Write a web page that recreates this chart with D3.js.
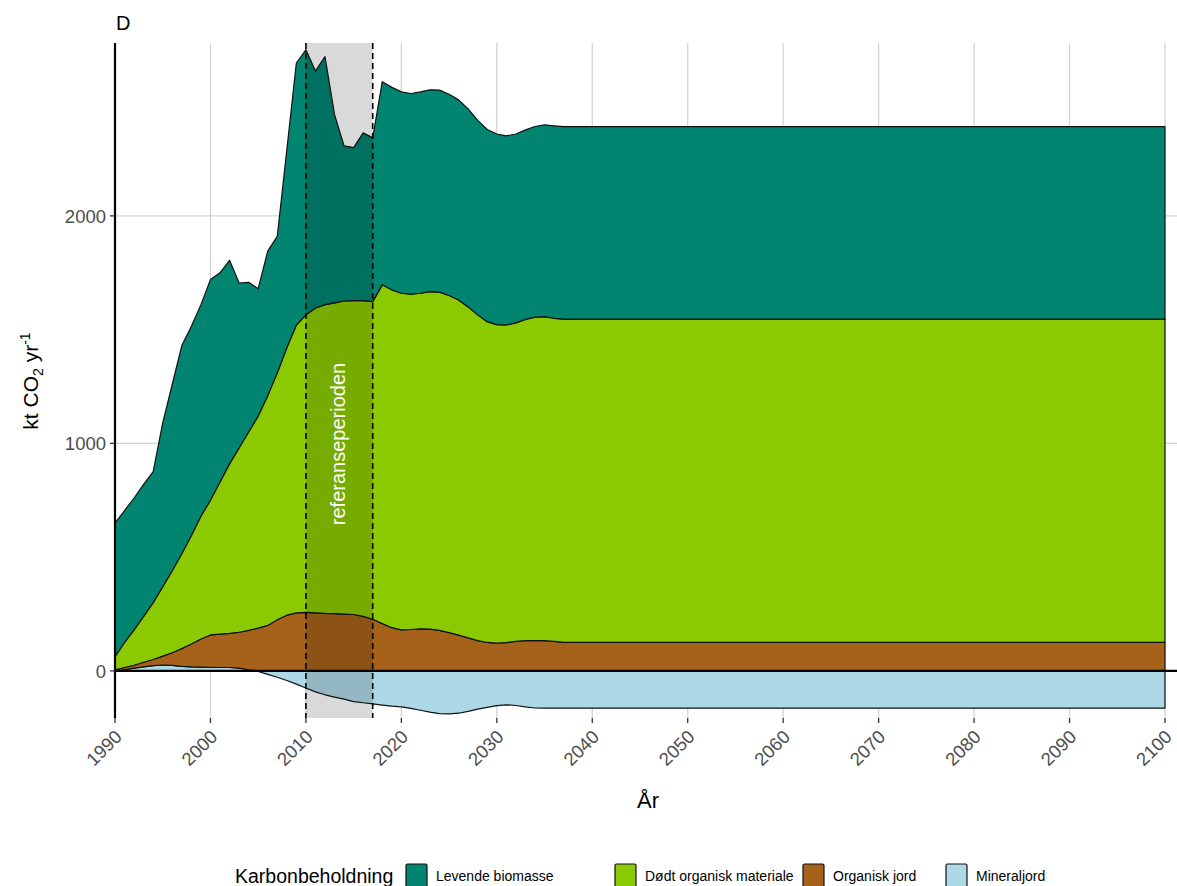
<!DOCTYPE html>
<html>
<head>
<meta charset="utf-8">
<script src="https://cdn.jsdelivr.net/npm/d3@7"></script>
<style>
  body { margin: 0; background: #fff; }
  svg { display: block; font-family: "Liberation Sans", Arial, sans-serif; }
</style>
</head>
<body>
<svg id="chart" width="1177" height="886"></svg>
<script>
// ---- data (kt CO2 per year) ----
const years = [1990, 1991, 1992, 1993, 1994, 1995, 1996, 1997, 1998, 1999,
  2000, 2001, 2002, 2003, 2004, 2005, 2006, 2007, 2008, 2009,
  2010, 2011, 2012, 2013, 2014, 2015, 2016, 2017, 2018, 2019,
  2020, 2021, 2022, 2023, 2024, 2025, 2026, 2027, 2028, 2029,
  2030, 2031, 2032, 2033, 2034, 2035, 2036, 2037, 2100];

const levende = [587, 580, 580, 580, 576, 720, 820, 915, 920, 930,
  970, 920, 895, 725, 658, 560, 635, 600, 870, 1152,
  1165, 1042, 1090, 827, 682, 672, 737, 720, 893, 890,
  885, 882, 885, 887, 888, 885, 880, 870, 855, 845,
  838, 831, 830, 833, 838, 843, 846, 846, 846];

const dodt = [58, 110, 155, 202, 250, 305, 360, 417, 477, 540,
  592, 668, 745, 810, 872, 932, 1010, 1085, 1175, 1265,
  1308, 1340, 1357, 1366, 1376, 1380, 1388, 1396, 1489, 1485,
  1480, 1474, 1475, 1483, 1487, 1482, 1473, 1455, 1432, 1410,
  1400, 1397, 1400, 1412, 1422, 1424, 1420, 1421, 1421];

const organisk = [5, 10, 13, 20, 27, 39, 56, 78, 100, 123,
  142, 147, 150, 158, 173, 188, 200, 225, 245, 255,
  257, 255, 253, 252, 250, 248, 240, 227, 208, 190,
  180, 182, 185, 184, 178, 168, 157, 145, 133, 125,
  122, 124, 130, 133, 133, 133, 130, 125, 125];

const mineral = [0, 5, 12, 18, 23, 26, 24, 20, 18, 17,
  16, 15, 15, 12, 5, -2, -15, -28, -42, -58,
  -75, -92, -105, -115, -124, -135, -140, -145, -150, -155,
  -158, -165, -173, -181, -188, -189, -186, -178, -168, -160,
  -153, -149, -152, -158, -163, -164, -164, -164, -164];

const seriesKeys = ["Mineraljord", "Organisk jord", "Dødt organisk materiale", "Levende biomasse"];
const legendOrder = ["Levende biomasse", "Dødt organisk materiale", "Organisk jord", "Mineraljord"];
const colors = {
  "Levende biomasse": "#018571",
  "Dødt organisk materiale": "#8bc900",
  "Organisk jord": "#a6611a",
  "Mineraljord": "#add8e6"
};

const xTicks = [1990, 2000, 2010, 2020, 2030, 2040, 2050, 2060, 2070, 2080, 2090, 2100];
const yTicks = [0, 1000, 2000];
const refPeriod = [2010, 2017];

// ---- layout ----
const svg = d3.select("#chart");
const pLeft = 115, pTop = 43, pBottom = 718, pRight = 1177;

const x = d3.scaleLinear().domain([1990, 2101.26]).range([pLeft, pRight]);
const y = d3.scaleLinear().domain([-207, 2760]).range([pBottom, pTop]);

const rows = years.map((yr, i) => ({
  year: yr,
  "Levende biomasse": levende[i],
  "Dødt organisk materiale": dodt[i],
  "Organisk jord": organisk[i],
  "Mineraljord": mineral[i]
}));

const stack = d3.stack()
  .keys(seriesKeys)
  .offset(d3.stackOffsetDiverging);
const layers = stack(rows);

/* grid */
const grid = svg.append("g");
grid.selectAll(".vg").data(xTicks).join("line")
  .attr("x1", d => x(d)).attr("x2", d => x(d))
  .attr("y1", pTop).attr("y2", pBottom)
  .attr("stroke", "#d4d4d4").attr("stroke-width", 1.3);
grid.selectAll(".hg").data(yTicks).join("line")
  .attr("x1", pLeft).attr("x2", pRight)
  .attr("y1", d => y(d)).attr("y2", d => y(d))
  .attr("stroke", "#d4d4d4").attr("stroke-width", 1.3);

/* areas */
const area = d3.area()
  .x(d => x(d.data.year))
  .y0(d => y(d[0]))
  .y1(d => y(d[1]));

svg.append("g").selectAll("path").data(layers).join("path")
  .attr("d", area)
  .attr("fill", d => colors[d.key])
  .attr("stroke", "#111")
  .attr("stroke-width", 1.2)
  .attr("stroke-linejoin", "round");

/* zero line */
svg.append("line")
  .attr("x1", pLeft).attr("x2", pRight)
  .attr("y1", y(0)).attr("y2", y(0))
  .attr("stroke", "black").attr("stroke-width", 2.4);

/* reference period */
svg.append("rect")
  .attr("x", x(refPeriod[0])).attr("y", pTop)
  .attr("width", x(refPeriod[1]) - x(refPeriod[0]))
  .attr("height", pBottom - pTop)
  .attr("fill", "black").attr("fill-opacity", 0.15);

svg.selectAll(".ref").data(refPeriod).join("line")
  .attr("x1", d => x(d)).attr("x2", d => x(d))
  .attr("y1", pTop).attr("y2", pBottom)
  .attr("stroke", "black").attr("stroke-width", 1.6)
  .attr("stroke-dasharray", "6,4");

const midRef = (x(refPeriod[0]) + x(refPeriod[1])) / 2;
svg.append("text")
  .attr("transform", `translate(${midRef + 6},444) rotate(-90)`)
  .attr("text-anchor", "middle")
  .attr("fill", "white")
  .attr("font-size", 20)
  .text("referanseperioden");

/* y axis */
svg.append("line")
  .attr("x1", pLeft).attr("x2", pLeft)
  .attr("y1", pTop).attr("y2", pBottom)
  .attr("stroke", "black").attr("stroke-width", 2.2);

svg.selectAll(".yt").data(yTicks).join("line")
  .attr("x1", pLeft - 5).attr("x2", pLeft)
  .attr("y1", d => y(d)).attr("y2", d => y(d))
  .attr("stroke", "#333").attr("stroke-width", 1.3);

svg.selectAll(".yl").data(yTicks).join("text")
  .attr("x", pLeft - 9).attr("y", d => y(d))
  .attr("dy", "0.36em")
  .attr("text-anchor", "end")
  .attr("fill", "#4d4d4d")
  .attr("font-size", 18.5)
  .text(d => d);

/* x axis */
svg.selectAll(".xt").data(xTicks).join("line")
  .attr("x1", d => x(d)).attr("x2", d => x(d))
  .attr("y1", pBottom).attr("y2", pBottom + 5)
  .attr("stroke", "#333").attr("stroke-width", 1.3);

svg.selectAll(".xl").data(xTicks).join("text")
  .attr("transform", d => `translate(${x(d) + 8},${pBottom + 20}) rotate(-45)`)
  .attr("text-anchor", "end")
  .attr("fill", "#4d4d4d")
  .attr("font-size", 18.5)
  .text(d => d);

/* titles */
svg.append("text")
  .attr("x", 648).attr("y", 808)
  .attr("text-anchor", "middle")
  .attr("font-size", 22)
  .text("År");

const yTitle = svg.append("text")
  .attr("transform", "translate(38,381) rotate(-90)")
  .attr("text-anchor", "middle")
  .attr("font-size", 21);
yTitle.append("tspan").text("kt CO");
yTitle.append("tspan").attr("font-size", 14).attr("dy", 5).text("2");
yTitle.append("tspan").attr("dy", -5).text(" yr");
yTitle.append("tspan").attr("font-size", 14).attr("dy", -8).text("-1");

svg.append("text")
  .attr("x", 116).attr("y", 30)
  .attr("font-size", 20)
  .text("D");

/* legend */
const legY = 876;
svg.append("text")
  .attr("x", 235).attr("y", legY).attr("dy", "0.36em")
  .attr("font-size", 19.5)
  .text("Karbonbeholdning");

const keyX = [406, 615, 803, 946];
const leg = svg.append("g").selectAll("g").data(legendOrder).join("g")
  .attr("transform", (d, i) => `translate(${keyX[i]},${legY - 12})`);
leg.append("rect")
  .attr("width", 21).attr("height", 24)
  .attr("rx", 1.5)
  .attr("fill", d => colors[d])
  .attr("stroke", "#111").attr("stroke-width", 1.2);
leg.append("text")
  .attr("x", 30).attr("y", 12).attr("dy", "0.36em")
  .attr("font-size", 14)
  .text(d => d);
</script>
</body>
</html>
